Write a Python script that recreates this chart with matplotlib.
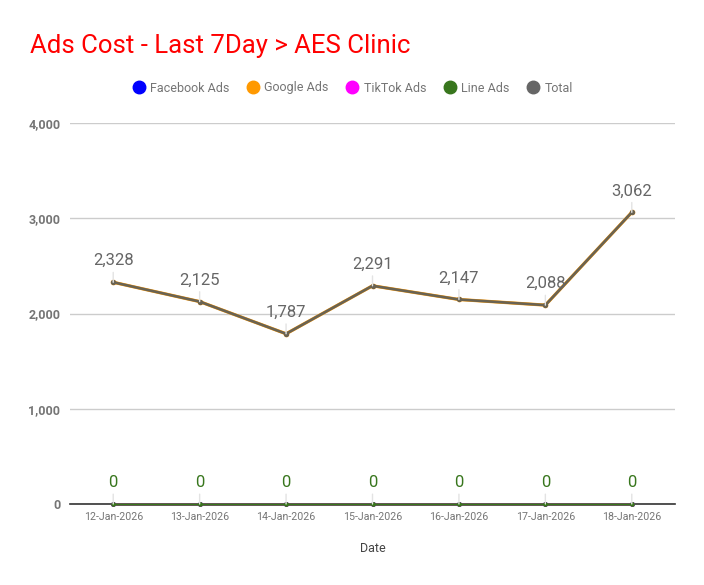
import matplotlib
matplotlib.use("Agg")
import matplotlib.pyplot as plt
from matplotlib.lines import Line2D

plt.rcParams['font.family'] = ['Roboto', 'DejaVu Sans']

dates = ["12-Jan-2026", "13-Jan-2026", "14-Jan-2026", "15-Jan-2026",
         "16-Jan-2026", "17-Jan-2026", "18-Jan-2026"]
facebook = [0, 0, 0, 0, 0, 0, 0]
google = [2328, 2125, 1787, 2291, 2147, 2088, 3062]
tiktok = [0, 0, 0, 0, 0, 0, 0]
line_ads = [0, 0, 0, 0, 0, 0, 0]
total = [2328, 2125, 1787, 2291, 2147, 2088, 3062]
yticks = [0, 1000, 2000, 3000, 4000]

C_FB = "#0000ff"
C_GG = "#ff9900"
C_TT = "#ff00ff"
C_LN = "#38761d"
C_TO = "#666666"

W, H = 704, 585
fig = plt.figure(figsize=(W / 100, H / 100), dpi=100)
fig.patch.set_facecolor("white")
left, right, bottom, top = 70, 675, 504, 123
ax = fig.add_axes([left / W, (H - bottom) / H, (right - left) / W, (bottom - top) / H])

x = list(range(len(dates)))
ax.set_xlim(-0.5, len(dates) - 0.5)
ax.set_ylim(0, 4000)

ax.set_yticks(yticks)
ax.set_yticklabels([f"{v:,}" for v in yticks])
ax.grid(axis="y", color="#cccccc", lw=1)
ax.set_axisbelow(True)
for s in ["top", "right", "left"]:
    ax.spines[s].set_visible(False)
ax.spines["bottom"].set_color("#333333")
ax.spines["bottom"].set_linewidth(1.2)
ax.tick_params(axis="y", length=0, pad=7, labelsize=9, labelcolor="#757575")
for t in ax.get_yticklabels():
    t.set_fontweight("bold")
ax.set_xticks(x)
ax.set_xticklabels(dates)
ax.tick_params(axis="x", length=0, pad=6, labelsize=7.7, labelcolor="#757575")

ax.set_xlabel("Date", fontsize=9, color="#444444", labelpad=14)

# lines
ax.plot(x, facebook, color=C_FB, lw=2, marker="o", ms=2.5, clip_on=False, zorder=3)
ax.plot(x, tiktok, color=C_TT, lw=2, marker="o", ms=2.5, clip_on=False, zorder=3)
ax.plot(x, google, color=C_GG, lw=2.3, marker="o", ms=3, clip_on=False, zorder=3)
ax.plot(x, total, color="#6a6352", lw=1.9, marker="o", ms=2.8, clip_on=False, zorder=4)
ax.plot(x, line_ads, color=C_LN, lw=1.8, marker="o", ms=2.5, clip_on=False, zorder=5)

def labels(vals, color):
    for i, v in zip(x, vals):
        ax.annotate(f"{v:,}", xy=(i, v), xytext=(0, 17), textcoords="offset pixels",
                    ha="center", va="baseline", fontsize=12, color=color,
                    arrowprops=dict(arrowstyle="-", color="#e3e3e3", lw=1,
                                    shrinkA=1, shrinkB=0),
                    annotation_clip=False, zorder=6)

labels(total, C_TO)
labels(line_ads, C_LN)

fig.text(30 / W, 1 - 46 / H, "Ads Cost - Last 7Day > AES Clinic", color="#ff0000",
         fontsize=18.5, ha="left", va="center")

names = ["Facebook Ads", "Google Ads", "TikTok Ads", "Line Ads", "Total"]
cols = [C_FB, C_GG, C_TT, C_LN, C_TO]
handles = [Line2D([], [], ls="", marker="o", ms=9, mfc=c, mec=c) for c in cols]
leg = fig.legend(handles, names, loc="center", bbox_to_anchor=(0.5, 1 - 88 / H), ncol=5,
                 frameon=False, fontsize=9, handletextpad=0.3, columnspacing=1.3,
                 handlelength=1.2)
for t in leg.get_texts():
    t.set_color("#757575")

fig.savefig("out.png", dpi=100)
